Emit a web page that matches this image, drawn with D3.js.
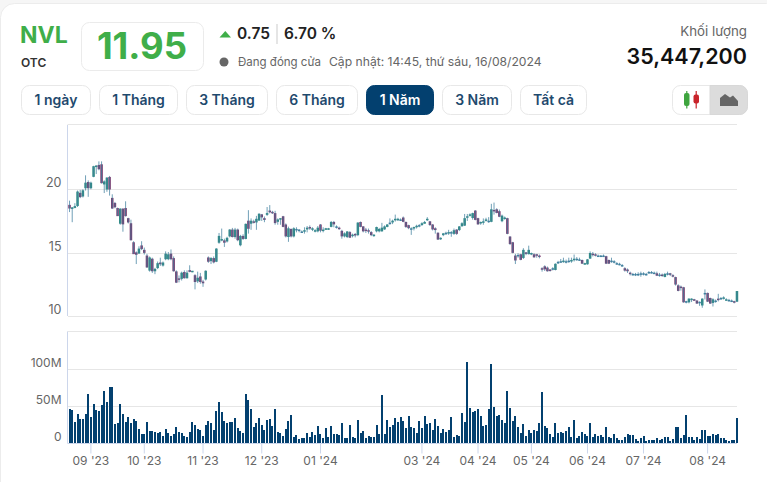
<!DOCTYPE html>
<html><head><meta charset="utf-8">
<script src="https://cdn.jsdelivr.net/npm/d3@7"></script>
<style>html,body{margin:0;padding:0;background:#f6f6f6;overflow:hidden}svg{display:block}text{font-family:Inter,sans-serif}</style>
</head><body><svg id="c" width="767" height="482"></svg>
<script>
const opens=[18.75,18.5,18.55,18.7,19.7,19.45,20.1,20.55,20.1,21.0,
21.8,21.9,21.95,20.4,20.0,20.95,19.3,18.9,18.5,17.3,
18.45,18.5,17.7,17.3,15.8,15.0,14.95,15.55,15.2,14.75,
13.6,14.5,13.55,13.8,14.2,14.0,14.5,14.5,14.9,14.55,
13.5,12.95,12.95,13.45,13.0,13.6,13.5,13.2,12.75,13.1,
12.7,12.9,14.6,14.35,14.55,14.3,15.8,16.0,15.95,15.9,
16.3,16.8,16.25,16.8,15.6,16.3,16.1,17.5,17.3,17.45,
17.4,17.55,18.0,17.7,18.0,18.3,18.2,18.1,17.45,17.65,
17.85,17.2,16.25,16.85,16.3,16.85,16.8,16.65,16.7,16.85,
17.0,16.85,16.7,16.7,17.2,16.75,16.85,16.85,17.05,17.4,
17.05,16.95,16.7,16.3,16.25,16.6,16.35,16.45,16.4,17.4,
17.05,16.8,16.75,16.6,16.35,16.7,16.7,16.7,16.85,17.05,
17.35,17.4,17.6,17.6,17.6,17.75,17.4,17.15,16.9,16.95,
17.05,17.15,17.2,17.3,17.6,17.45,17.2,16.9,16.55,16.1,
16.4,16.55,16.55,16.6,16.5,16.8,16.8,17.1,17.15,17.8,
17.95,17.75,18.3,17.7,17.35,17.4,17.55,17.5,17.45,18.35,
18.4,18.25,17.5,17.7,17.7,16.25,15.8,14.75,14.8,14.85,
14.6,15,14.9,14.9,14.85,14.85,14.75,13.75,13.9,13.8,
13.65,13.75,13.65,14.25,14.3,14.3,14.3,14.35,14.35,14.45,
14.5,14.45,14.4,14.1,14.1,14.55,14.9,14.85,14.75,14.75,
14.75,14.7,14.4,14.35,14.3,14.15,14.1,14,13.75,13.65,
13.4,13.3,13.3,13.3,13.35,13.35,13.3,13.45,13.45,13.4,
13.35,13.25,13.25,13.1,13.35,13.35,13.2,13.05,12.4,12.3,
12.25,11.15,11.1,11.3,11.3,11.2,11.1,10.85,11.8,11.8,
11.4,11.05,11.2,11.35,11.4,11.4,11.25,11.25,11.2,11.15,11.15];
const closes=[18.5,18.55,18.65,19.8,19.4,19.9,20.5,20.1,20.5,21.8,
21.85,21.6,20.5,20.6,20.9,20.0,18.5,18.6,17.9,18.45,
17.25,17.9,17.4,16.0,14.9,14.85,15.3,15.3,15.0,13.85,
14.6,13.55,13.7,14.15,14.1,14.2,14.9,14.85,14.5,13.55,
12.65,12.9,13.4,13.0,13.4,13.5,13.55,12.7,13.0,12.7,
12.6,13.55,14.3,14.55,14.25,15.3,16.3,16.05,15.8,16.15,
16.8,16.25,16.8,16.0,16.3,16.1,17.25,16.9,17.5,17.4,
17.65,18.05,17.8,17.6,18.1,18.2,18.15,17.35,17.6,17.7,
17.05,16.3,16.9,16.3,16.9,16.85,16.8,16.65,16.75,16.95,
16.95,16.9,16.75,16.95,16.75,16.8,16.9,16.9,17.4,17.25,
17.05,16.9,16.3,16.5,16.65,16.2,16.4,16.4,17.35,17.05,
16.7,16.75,16.7,16.4,16.4,17,16.85,16.95,17.05,17.2,
17.35,17.5,17.65,17.65,17.6,17.45,17.05,16.95,16.9,17,
17.1,17.15,17.3,17.4,17.65,17.2,16.85,16.8,16.05,16.15,
16.5,16.55,16.6,16.6,16.75,16.5,17.05,17.3,17.7,17.85,
18,18.1,17.6,17.25,17.4,17.45,17.6,17.5,18.4,18.3,
18.15,17.85,17.9,17.75,16.5,15.7,15.0,14.4,14.8,14.45,
15.2,14.95,15.2,14.95,14.65,14.8,14.7,13.7,13.7,13.55,
13.6,13.75,14.1,14.25,14.3,14.35,14.3,14.35,14.4,14.5,
14.5,14.45,14.15,14.15,14.45,14.95,14.85,14.8,14.75,14.75,
14.75,14.15,14.15,14.35,14.3,14.15,14.1,14,13.6,13.55,
13.35,13.3,13.3,13.3,13.35,13.35,13.3,13.45,13.45,13.4,
13.2,13.25,13.2,13.3,13.35,13.3,13.15,12.5,12,12.25,
11.1,11.15,11.35,11.35,11.25,11,11.1,11.35,11.8,11.15,
11,11.3,11.2,11.3,11.4,11.45,11.3,11.25,11.2,11.1,11.95];
const lows=[18.2,17.4,18.5,18.6,19.3,19.35,19.9,19.4,20,20.95,
21.2,21.5,20.45,19.7,19.8,19.5,18.45,18.5,17.9,17.2,
16.65,17.85,17.3,15.95,14.9,14.1,14.9,15.2,14.85,13.8,
13.5,13.4,13.3,13.7,13.95,13.9,14.4,14.4,14.4,13.5,
12.6,12.65,12.8,12.95,12.95,13.45,13.45,12.1,12.6,12.55,
12.3,12.8,14.2,14.1,14.15,14.25,15.7,15.9,15.45,15.8,
16.2,16.2,16.1,15.9,15.5,16,16.05,16.5,16.8,17.3,
16.8,17.5,17.5,17.4,17.9,18.1,18.05,17.2,17.2,17.2,
17,16.2,15.85,16.2,16.2,16.6,16.6,16.55,16.5,16.6,
16.8,16.7,16.6,16.6,16.6,16.6,16.8,16.8,17,17,
16.9,16.8,16.1,16.2,16.15,16.15,16.2,16.2,16.3,17,
16.6,16.55,16.5,16.3,16.25,16.6,16.6,16.65,16.8,17,
17.2,17.25,17.45,17.5,17.5,17.4,16.95,16.85,16.4,16.75,
16.9,17,17.1,17.3,17.5,17.1,16.75,16.5,16,16,
16.3,16.4,16.4,16.25,16.4,16.4,16.7,17.05,17.1,17.5,
17.85,17.6,17.55,17.2,17.2,17.2,17.45,17.35,17.4,18,
18.1,17.8,17.4,17.6,16.45,15.6,14.95,14.1,14.6,14.4,
14.5,14.8,14.85,14.8,14.6,14.6,14.55,13.5,13.55,13.5,
13.5,13.6,13.6,14.1,14.2,14.2,14.15,14.2,14.2,14.3,
14.35,14.35,14.1,14.05,14.05,14.5,14.7,14.7,14.7,14.65,
14.65,14.1,14.1,14.2,14.15,14.05,14,13.9,13.5,13.4,
13.2,13.2,13.15,13.15,13.1,13.2,13.2,13.35,13.35,13.35,
13.15,13.1,13.1,13.05,13.2,13.15,13.05,12.4,11.95,12,
11.05,11,11,11.1,11.2,10.95,10.8,10.65,11.3,11.1,
10.95,10.75,11.05,11.15,11.3,11.3,11.2,11.15,11.1,11,11.1];
const highs=[19.1,18.6,18.9,19.9,19.95,20,21.1,20.7,20.6,21.85,
21.9,22.2,22.2,20.7,20.95,21.05,19.6,19.0,18.55,18.5,
18.5,19.05,17.75,17.6,15.9,15.1,15.5,15.9,15.4,14.9,
14.7,14.6,13.8,14.3,14.6,14.3,15.1,15.05,15.25,14.7,
13.6,13.2,13.5,13.6,13.6,14.0,13.55,13.3,13.5,13.4,
12.85,13.6,14.7,14.65,14.7,15.35,16.55,16.9,16.1,16.25,
16.85,16.95,16.95,16.9,16.4,16.45,17.3,18.35,17.7,17.6,
17.9,18.1,18.05,17.85,18.6,18.75,18.3,18.3,17.7,17.7,
17.9,17.3,17.05,16.9,17,17,16.85,16.75,17,17.1,
17.15,17,16.85,17.1,17.25,17,16.95,16.95,17.5,17.5,
17.15,17.05,16.8,16.6,16.7,16.7,16.5,16.55,17.4,17.45,
17.1,16.95,16.9,16.7,16.45,17.05,16.95,17.35,17.15,17.25,
17.7,17.6,18,17.75,17.7,17.85,17.45,17.2,17,17.05,
17.2,17.25,17.4,17.5,17.8,17.5,17.25,17,16.6,16.2,
16.55,16.65,16.8,16.7,16.9,16.85,17.1,17.4,18.05,18.05,
18.1,18.15,18.35,17.75,17.45,17.7,17.75,17.8,18.85,18.95,
18.5,18.4,18,17.85,17.75,16.3,15.85,14.9,14.95,14.9,
15.35,15.05,15.55,15,14.95,14.9,14.85,13.85,14,13.9,
13.7,13.85,14.15,14.35,14.5,14.6,14.45,14.6,14.6,14.85,
14.65,14.6,14.45,14.2,14.5,15.1,15.05,14.95,14.85,14.8,
14.85,14.75,14.45,14.6,14.4,14.25,14.2,14.1,13.85,13.75,
13.5,13.4,13.4,13.45,13.5,13.45,13.4,13.55,13.55,13.5,
13.5,13.4,13.35,13.4,13.5,13.4,13.3,13.1,12.5,12.4,
12.3,11.2,11.4,11.4,11.35,11.25,11.15,11.4,12.1,11.85,
11.45,11.4,11.3,11.75,11.5,11.55,11.4,11.35,11.3,11.2,11.95];
const volumes=[46,45,29,40,33,33,40,67,36,53,
45,44,52,71,56,76,76,26,27,53,
40,29,36,27,33,30,19,13,13,29,
17,17,15,14,15,10,19,14,10,13,
22,15,14,10,9,15,29,25,19,18,
10,25,30,27,18,44,56,42,30,27,
29,29,34,21,16,14,67,59,46,22,
27,34,25,18,32,33,23,46,15,14,
10,19,30,38,9,11,6,7,7,14,
9,15,11,23,13,7,21,9,23,13,
13,11,27,7,7,25,9,7,32,14,
17,7,10,9,9,25,13,65,13,32,
22,25,34,29,36,30,21,37,22,21,
14,30,21,37,26,27,18,33,23,14,
19,15,18,36,9,11,10,41,29,110,
48,42,44,46,37,23,25,46,107,49,
37,38,32,27,71,48,
30,37,22,14,26,10,18,14,18,17,
27,69,23,21,13,9,27,14,15,14,
17,22,9,32,7,10,15,13,10,27,
9,13,10,11,9,22,9,7,13,7,
4,4,9,13,11,11,6,3,7,10,
3,4,4,4,7,4,6,9,9,3,
6,22,22,7,11,38,9,9,4,9,
6,18,18,10,10,13,11,13,7,7,
4,3,4,4,34];
const monthTickIndex=[8,28,50,72,94,132,153,173,194,215,239];
const monthTickLabels=["09 '23","10 '23","11 '23","12 '23","01 '24","03 '24","04 '24","05 '24","06 '24","07 '24","08 '24"];
const priceTicks=[10,15,20];
const volumeTicks=[0,50,100];
const rangeButtons=["1 ngày","1 Tháng","3 Tháng","6 Tháng","1 Năm","3 Năm","Tất cả"];
const rangeEdges=[[21,91],[99,178],[186,268],[276,358],[366,434],[442,512],[520,587]];
const activeRange="1 Năm";

const svg=d3.select("#c");
const idx=d3.range(opens.length);
const x=d3.scaleBand().domain(idx).range([68.2,738.3]).paddingInner(0.25).paddingOuter(0.125);
const yP=d3.scaleLinear().domain([10,25.07]).range([316,125]);
const yV=d3.scaleLinear().domain([0,151]).range([443.3,331.5]);
const GRID="#e6e6e6",AXIS="#ccd6eb",LABEL="#666666",TICKFONT="'Liberation Sans',Arial,sans-serif";

// card
svg.append("rect").attr("x",0.5).attr("y",3.5).attr("width",780).attr("height",500).attr("rx",14).attr("fill","#fff").attr("stroke","#ececec");

// header
const T=(t,px,py,size,weight,fill,anchor)=>svg.append("text").text(t).attr("x",px).attr("y",py).attr("font-size",size).attr("font-weight",weight).attr("fill",fill).attr("text-anchor",anchor||"start");
T("NVL",20,43,23,700,"#3fae49");
T("OTC",21,67,12,600,"#333");
svg.append("rect").attr("x",81.5).attr("y",22.5).attr("width",122).attr("height",48).attr("rx",8).attr("fill","#fff").attr("stroke","#ebebeb");
T("11.95",142,59,36.5,700,"#3fae49","middle");
svg.append("path").attr("d","M219.5 37.5L225.3 31L231 37.5Z").attr("fill","#3fae49");
T("0.75",237,39,15.5,600,"#222");
svg.append("rect").attr("x",276.5).attr("y",24).attr("width",1).attr("height",20).attr("fill","#ccc");
T("6.70 %",284,39,15.5,600,"#222");
svg.append("circle").attr("cx",224).attr("cy",62).attr("r",4.5).attr("fill","#666");
T("Đang đóng cửa",238,66,11.5,400,"#666");
T("Cập nhật: 14:45, thứ sáu, 16/08/2024",329,66,12.15,400,"#666");
T("Khối lượng",747,36,13.3,400,"#666","end");
T("35,447,200",747,64,21.5,600,"#111","end");

// range buttons
rangeButtons.forEach((b,i)=>{
  const [a,e]=rangeEdges[i],on=b===activeRange;
  svg.append("rect").attr("x",a+.5).attr("y",85.5).attr("width",e-a-1).attr("height",29).attr("rx",8)
    .attr("fill",on?"#03406f":"#fff").attr("stroke",on?"#03406f":"#e8e8e8");
  T(b,(a+e)/2,105,14,600,on?"#fff":"#1f4a6e","middle");
});
// chart-type toggle
svg.append("rect").attr("x",672.5).attr("y",85.5).attr("width",75).attr("height",29).attr("rx",8).attr("fill","#fff").attr("stroke","#e8e8e8");
svg.append("path").attr("d","M710 85.5H739.5a8 8 0 0 1 8 8V106.5a8 8 0 0 1-8 8H710Z").attr("fill","#dcdcdc").attr("stroke","#d8d8d8");
svg.append("rect").attr("x",684).attr("y",93).attr("width",5.5).attr("height",13).attr("rx",2).attr("fill","#3fa53f");
svg.append("rect").attr("x",686.2).attr("y",91).attr("width",1.2).attr("height",17.5).attr("fill","#3fa53f");
svg.append("rect").attr("x",693.5).attr("y",94.5).attr("width",5.5).attr("height",9).attr("rx",2).attr("fill","#c9242b");
svg.append("rect").attr("x",695.6).attr("y",91).attr("width",1.2).attr("height",17.5).attr("fill","#c9242b");
svg.append("path").attr("d","M720 106V98L725 94L730 97.5L733 95.5L738 101V106Z").attr("fill","#666");

// price pane
const pane=svg.append("g");
pane.append("line").attr("x1",67.5).attr("x2",737).attr("y1",124.5).attr("y2",124.5).attr("stroke",GRID);
const yAxisP=d3.axisLeft(yP).tickValues(priceTicks).tickSize(0).tickPadding(6).tickFormat(d3.format("d"));
const gP=svg.append("g").attr("transform","translate(67.5,0)").call(yAxisP);
gP.select(".domain").attr("stroke",AXIS).attr("d","M0,125V316");
gP.selectAll("text").attr("fill",LABEL).attr("font-size",12.5).attr("font-family",TICKFONT).attr("dy",-2.5);
priceTicks.forEach(t=>pane.append("line").attr("x1",68).attr("x2",737).attr("y1",Math.round(yP(t))+.5).attr("y2",Math.round(yP(t))+.5).attr("stroke",GRID));

const mid=i=>x(i)+x.bandwidth()/2;
svg.append("g").selectAll("rect").data(idx).join("rect")
  .attr("x",i=>x(i)-.25).attr("width",x.bandwidth()+.5)
  .attr("y",i=>yP(Math.max(opens[i],closes[i]))-.25)
  .attr("height",i=>Math.max(1,Math.abs(yP(opens[i])-yP(closes[i])))+.5)
  .attr("fill",i=>closes[i]>opens[i]?"#2f8d83":closes[i]<opens[i]?"#7b3b6f":"#41809f");
svg.append("g").selectAll("line").data(idx).join("line")
  .attr("x1",mid).attr("x2",mid).attr("y1",i=>yP(highs[i])).attr("y2",i=>yP(lows[i]))
  .attr("stroke","#41809f").attr("stroke-width",1).attr("stroke-opacity",0.75);

// volume pane
pane.append("line").attr("x1",67.5).attr("x2",737).attr("y1",331.5).attr("y2",331.5).attr("stroke",GRID);
const yAxisV=d3.axisLeft(yV).tickValues(volumeTicks).tickSize(0).tickPadding(6).tickFormat(d=>d?d+"M":"0");
const gV=svg.append("g").attr("transform","translate(67.5,0)").call(yAxisV);
gV.select(".domain").attr("stroke",AXIS).attr("d","M0,331.5V443.3");
gV.selectAll("text").attr("fill",LABEL).attr("font-size",12).attr("font-family",TICKFONT).attr("dy",-2.5);
volumeTicks.slice(1).forEach(t=>pane.append("line").attr("x1",68).attr("x2",737).attr("y1",Math.round(yV(t))+.5).attr("y2",Math.round(yV(t))+.5).attr("stroke",GRID));

svg.append("g").attr("shape-rendering","crispEdges").selectAll("rect").data(idx).join("rect")
  .attr("x",i=>x(i)).attr("width",x.bandwidth())
  .attr("y",i=>yV(volumes[i])).attr("height",i=>yV(0)-yV(volumes[i]))
  .attr("fill","#03406f");

const xAxis=d3.axisBottom(x).tickValues(monthTickIndex).tickSize(10).tickPadding(3).tickFormat((d,i)=>monthTickLabels[i]);
const gX=svg.append("g").attr("transform","translate(0,443.5)").call(xAxis);
gX.select(".domain").attr("stroke",AXIS).attr("d","M67.5,0H737");
gX.selectAll("line").attr("stroke",AXIS);
gX.selectAll("text").attr("fill",LABEL).attr("font-size",12).attr("font-family",TICKFONT);
</script></body></html>
